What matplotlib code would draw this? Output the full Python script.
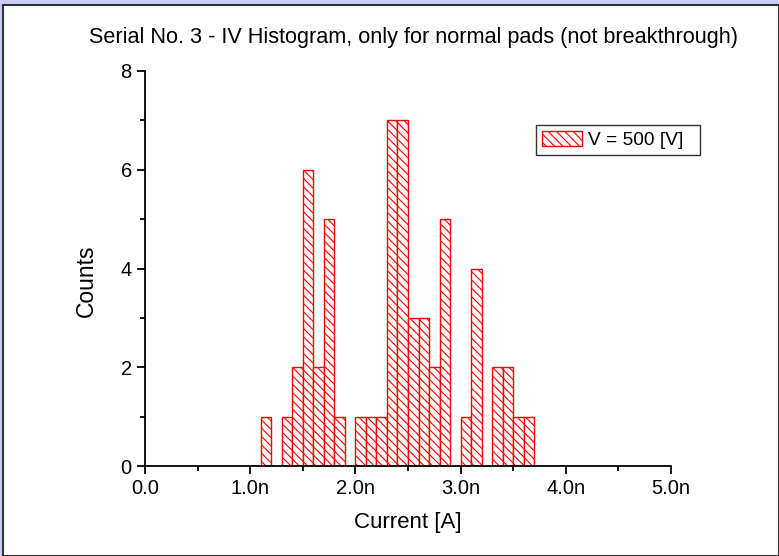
import matplotlib.pyplot as plt
from matplotlib.patches import Rectangle
from matplotlib.ticker import FuncFormatter, MultipleLocator

# Histogram bins (left edges, in nA) and counts, bin width 0.1 nA
bin_left = [1.1, 1.2, 1.3, 1.4, 1.5, 1.6, 1.7, 1.8, 1.9, 2.0, 2.1, 2.2, 2.3,
            2.4, 2.5, 2.6, 2.7, 2.8, 2.9, 3.0, 3.1, 3.2, 3.3, 3.4, 3.5, 3.6]
counts = [1, 0, 1, 2, 6, 2, 5, 1, 0, 1, 1, 1, 7,
          7, 3, 3, 2, 5, 0, 1, 4, 0, 2, 2, 1, 1]
bin_width = 0.1

plt.rcParams["font.family"] = ["Liberation Sans", "DejaVu Sans"]
plt.rcParams["hatch.linewidth"] = 0.8

W, H = 779, 556
fig = plt.figure(figsize=(W / 100, H / 100), dpi=100)
fig.patch.set_facecolor("#ccccff")
fig.patches.append(Rectangle((3 / W, 0), 1 - 3 / W - 0.5 / W, 1 - 5 / H, transform=fig.transFigure,
                             facecolor="white", edgecolor="#333333", linewidth=1.5, zorder=-5))

ax = fig.add_axes([145 / W, 1 - 466 / H, (671 - 145) / W, (466 - 71) / H])
ax.set_facecolor("none")

shown = [(x, c) for x, c in zip(bin_left, counts) if c > 0]
ax.bar([s[0] for s in shown], [s[1] for s in shown], width=bin_width, align="edge",
       facecolor="white", edgecolor="red", hatch="\\\\\\\\", linewidth=1.0, label="V = 500 [V]  ")

ax.set_xlim(0, 5)
ax.set_ylim(0, 8)
ax.xaxis.set_major_locator(MultipleLocator(1))
ax.xaxis.set_minor_locator(MultipleLocator(0.5))
ax.yaxis.set_major_locator(MultipleLocator(2))
ax.yaxis.set_minor_locator(MultipleLocator(1))
ax.xaxis.set_major_formatter(FuncFormatter(lambda v, p: "0.0" if v == 0 else f"{v:.1f}n"))
ax.yaxis.set_major_formatter(FuncFormatter(lambda v, p: f"{v:.0f}"))

for s in ["top", "right"]:
    ax.spines[s].set_visible(False)
ax.spines["left"].set_linewidth(1.3)
ax.spines["bottom"].set_linewidth(1.3)
ax.tick_params(which="major", direction="out", length=6, width=1.3, labelsize=14.5, pad=3.5)
ax.tick_params(which="minor", direction="out", length=3.5, width=1.3)

ax.set_xlabel("Current [A]", fontsize=16, labelpad=10)
ax.set_ylabel("Counts", fontsize=16.5)
ax.yaxis.set_label_coords(-0.09, 0.47)

fig.text(414 / W, 1 - 38 / H, "Serial No. 3 - IV Histogram, only for normal pads (not breakthrough)",
         ha="center", va="center", fontsize=15.6)

fig.legend(loc="upper left", bbox_to_anchor=(536 / W, 1 - 125 / H), borderaxespad=0,
           fancybox=False, framealpha=1, edgecolor="#333333", fontsize=13.8,
           handlelength=2.1, handleheight=0.85, borderpad=0.3, handletextpad=0.3)

plt.savefig("out.png", dpi=100)
plt.close()
